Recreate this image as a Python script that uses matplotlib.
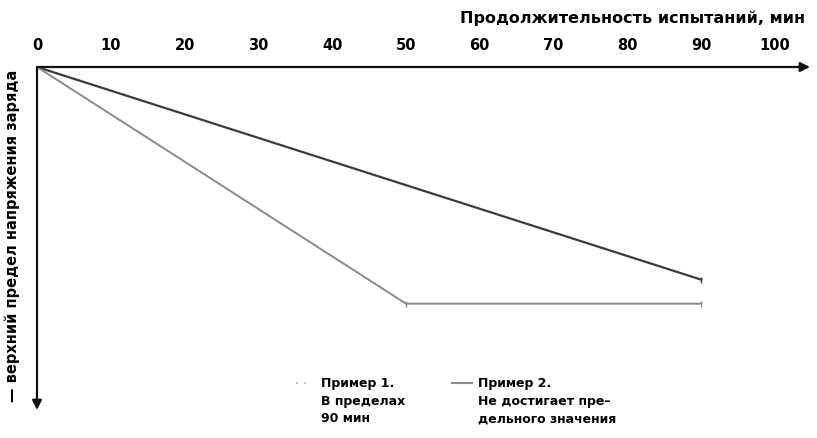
import matplotlib
matplotlib.use("Agg")
import matplotlib.pyplot as plt
from matplotlib.lines import Line2D

# Data (time, min) and depth below upper charge voltage limit (arbitrary units, downward)
x1 = [0, 90]
y1 = [0, 62]
x2 = [0, 50, 90]
y2 = [0, 69, 69]
xticks = [0, 10, 20, 30, 40, 50, 60, 70, 80, 90, 100]

x_title = "Продолжительность испытаний, мин"
y_title = "— верхний предел напряжения заряда"
leg1 = ["Пример 1.", "В пределах", "90 мин"]
leg2 = ["Пример 2.", "Не достигает пре–", "дельного значения"]

plt.rcParams['font.family'] = ['DejaVu Sans']

fig = plt.figure(figsize=(8.17, 4.38), dpi=100)
ax = fig.add_axes([37/817, 1-410/438, (810-37)/817, (410-67)/438])
ax.set_xlim(0, (810-37)/7.38)
ax.set_ylim(100, 0)

c1 = '#3a3a3a'
c2 = '#8a8a8a'
ax.plot(x1, y1, color=c1, lw=1.6, marker='|', markersize=4, markevery=[1])
ax.plot(x2, y2, color=c2, lw=1.4, marker='|', markersize=4, markevery=[1, 2])

for s in ax.spines.values():
    s.set_visible(False)
ax.set_yticks([])
ax.xaxis.set_ticks_position('top')
ax.set_xticks(xticks)
ax.set_xticklabels([str(t) for t in xticks], fontsize=10.5, fontweight='bold')
ax.tick_params(axis='x', length=0, pad=10)

# arrows for axes
ax.annotate('', xy=(1.0, 1.0), xytext=(0, 1.0), xycoords='axes fraction',
            arrowprops=dict(arrowstyle='-|>', color='#111111', lw=1.6,
                            mutation_scale=14, shrinkA=0, shrinkB=0))
ax.annotate('', xy=(0, 0.0), xytext=(0, 1.0), xycoords='axes fraction',
            arrowprops=dict(arrowstyle='-|>', color='#111111', lw=1.6,
                            mutation_scale=14, shrinkA=0, shrinkB=0))

fig.text(460/817, 1-18/438, x_title, ha='left', va='center', fontsize=11.5,
         fontweight='bold')
fig.text(12/817, 1-236/438, y_title, ha='center', va='center', rotation=90,
         fontsize=10.5, fontweight='bold')

# legend
ys = [383, 401, 419]
fig.add_artist(Line2D([296/817, 310/817], [1-383/438]*2, color='#aaaaaa',
                      lw=1.2, ls=(0, (1, 4))))
fig.add_artist(Line2D([452/817, 472/817], [1-383/438]*2, color=c2, lw=1.5))
for i, (a, b) in enumerate(zip(leg1, leg2)):
    fig.text(321/817, 1-ys[i]/438, a, ha='left', va='center', fontsize=9,
             fontweight='bold')
    fig.text(478/817, 1-ys[i]/438, b, ha='left', va='center', fontsize=9,
             fontweight='bold')

fig.savefig('out.png', dpi=100)
